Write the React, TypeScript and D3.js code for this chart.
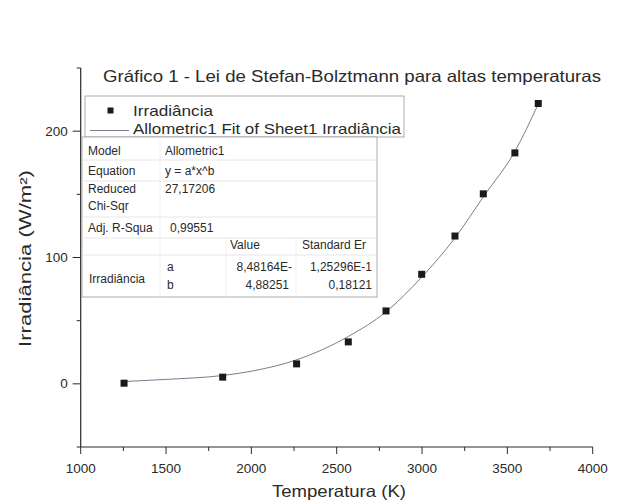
import React from 'react';
import * as d3 from 'd3';

const temperatures = [1254, 1832, 2265, 2568, 2789, 2998, 3193, 3359, 3544, 3681];
const irradiance = [0.5, 5.3, 15.8, 33.2, 57.7, 86.7, 117, 150.4, 182.8, 221.9];

// allometric fit curve
const fitTemperatures = [1254, 1500, 1832, 2000, 2265, 2568, 2789, 2998, 3193, 3359, 3544, 3681];
const fitIrradiance = [1.8, 3.5, 6.6, 10, 19, 37.5, 57, 84.5, 115.5, 148, 184, 221.5];

const xMajorTicks = [1000, 1500, 2000, 2500, 3000, 3500, 4000];
const xMinorTicks = [1250, 1750, 2250, 2750, 3250, 3750];
const yMajorTicks = [0, 100, 200];
const yMinorTicks = [-50, 50, 150, 250];

const tableRows = [
  ['Model', 'Allometric1'],
  ['Equation', 'y = a*x^b'],
  ['Reduced', '27,17206'],
  ['Adj. R-Squa', '0,99551'],
];
const paramNames = ['a', 'b'];
const paramValues = ['8,48164E-', '4,88251'];
const paramErrors = ['1,25296E-1', '0,18121'];

const W = 624;
const H = 504;
const margin = { left: 80.7, right: 31.3, top: 68, bottom: 57 };
const font = '"Liberation Sans", Arial, sans-serif';
const ink = '#2a2a2a';

export default function App() {
  const x = d3.scaleLinear().domain([1000, 4000]).range([margin.left, W - margin.right]);
  const y = d3.scaleLinear().domain([-50, 250]).range([H - margin.bottom, margin.top]);

  const fitLine = d3
    .line<number>()
    .x((d, i) => x(fitTemperatures[i]))
    .y((d) => y(d))
    .curve(d3.curveMonotoneX)(fitIrradiance);

  const x0 = x.range()[0];
  const y0 = y.range()[0];

  // fit table geometry
  const tl = 82;
  const tr = 377;
  const tt = 137;
  const tb = 297;
  const c1 = 165;
  const c2 = 226;
  const c3 = 296;
  const rowLines = [160, 181, 217, 238, 255];

  return (
    <svg width={W} height={H} style={{ position: 'absolute', left: 0, top: 0, background: '#fff' }} fontFamily={font}>
      {/* title */}
      <text x={103} y={82} fontSize={16.5} fill={ink} textLength={498} lengthAdjust="spacingAndGlyphs">
        Gráfico 1 - Lei de Stefan-Bolztmann para altas temperaturas
      </text>

      {/* axes */}
      <line x1={x0} x2={x0} y1={y(250)} y2={y0} stroke={ink} strokeWidth={1.2} />
      <line x1={x0} x2={x(4000)} y1={y0} y2={y0} stroke={ink} strokeWidth={1.2} />

      {xMajorTicks.map((t) => (
        <g key={'xm' + t}>
          <line x1={x(t)} x2={x(t)} y1={y0} y2={y0 + 7} stroke={ink} />
          <text x={x(t)} y={y0 + 26} textAnchor="middle" fontSize={13.5} fill={ink}>
            {t}
          </text>
        </g>
      ))}
      {xMinorTicks.map((t) => (
        <line key={'xn' + t} x1={x(t)} x2={x(t)} y1={y0} y2={y0 + 4} stroke={ink} />
      ))}
      {yMajorTicks.map((t) => (
        <g key={'ym' + t}>
          <line x1={x0 - 8} x2={x0} y1={y(t)} y2={y(t)} stroke={ink} />
          <text x={x0 - 13} y={y(t) + 4.5} textAnchor="end" fontSize={13.5} fill={ink}>
            {t}
          </text>
        </g>
      ))}
      {yMinorTicks.map((t) => (
        <line key={'yn' + t} x1={x0 - 4} x2={x0} y1={y(t)} y2={y(t)} stroke={ink} />
      ))}

      {/* axis titles */}
      <text x={272} y={497} fontSize={16.5} fill={ink} textLength={134} lengthAdjust="spacingAndGlyphs">
        Temperatura (K)
      </text>
      <text
        transform={`translate(31,347) rotate(-90)`}
        fontSize={16.5}
        fill={ink}
        textLength={177}
        lengthAdjust="spacingAndGlyphs"
      >
        Irradiância (W/m²)
      </text>

      {/* fit + data */}
      <path d={fitLine || ''} fill="none" stroke="#7c7c90" strokeWidth={1} />
      {temperatures.map((t, i) => (
        <rect key={'p' + i} x={x(t) - 3.5} y={y(irradiance[i]) - 3.5} width={7} height={7} fill="#1a1a1a" />
      ))}

      {/* legend */}
      <rect x={85} y={96} width={319} height={41} fill="#fff" stroke="#9a9a9a" strokeWidth={0.8} />
      <rect x={107.5} y={107.5} width={6} height={6} fill="#1a1a1a" />
      <text x={133} y={116} fontSize={15} fill={ink} textLength={80} lengthAdjust="spacingAndGlyphs">Irradiância</text>
      <line x1={90} x2={129} y1={130.5} y2={130.5} stroke="#7c7c90" />
      <text x={133} y={134} fontSize={15} fill={ink} textLength={268} lengthAdjust="spacingAndGlyphs">
        Allometric1 Fit of Sheet1 Irradiância
      </text>

      {/* fit results table */}
      <rect x={tl} y={tt} width={tr - tl} height={tb - tt} fill="#fff" stroke="#9a9a9a" strokeWidth={0.8} />
      {rowLines.map((ry) => (
        <line key={'r' + ry} x1={tl} x2={tr} y1={ry} y2={ry} stroke="#e0e0e0" strokeWidth={0.8} />
      ))}
      <line x1={c1 - 5} x2={c1 - 5} y1={tt} y2={tb} stroke="#ececec" strokeWidth={0.8} />
      <line x1={c2} x2={c2} y1={238} y2={tb} stroke="#ececec" strokeWidth={0.8} />
      <line x1={c3} x2={c3} y1={238} y2={tb} stroke="#ececec" strokeWidth={0.8} />

      {tableRows.map((row, i) => {
        const base = [155, 175, 193, 232][i];
        return (
          <g key={'t' + i} fontSize={12} fill={ink}>
            <text x={88} y={base}>{row[0]}</text>
            <text x={i === 3 ? 170 : c1} y={base}>{row[1]}</text>
          </g>
        );
      })}
      <text x={88} y={210} fontSize={12} fill={ink}>Chi-Sqr</text>
      <text x={230} y={249} fontSize={12} fill={ink}>Value</text>
      <text x={302} y={249} fontSize={12} fill={ink}>Standard Er</text>
      <text x={89} y={283} fontSize={12} fill={ink}>Irradiância</text>
      {paramNames.map((p, i) => {
        const base = [271, 289][i];
        return (
          <g key={'pv' + p} fontSize={12} fill={ink}>
            <text x={167} y={base}>{p}</text>
            <text x={i === 0 ? 292 : 289} y={base} textAnchor="end">{paramValues[i]}</text>
            <text x={372} y={base} textAnchor="end">{paramErrors[i]}</text>
          </g>
        );
      })}
    </svg>
  );
}
